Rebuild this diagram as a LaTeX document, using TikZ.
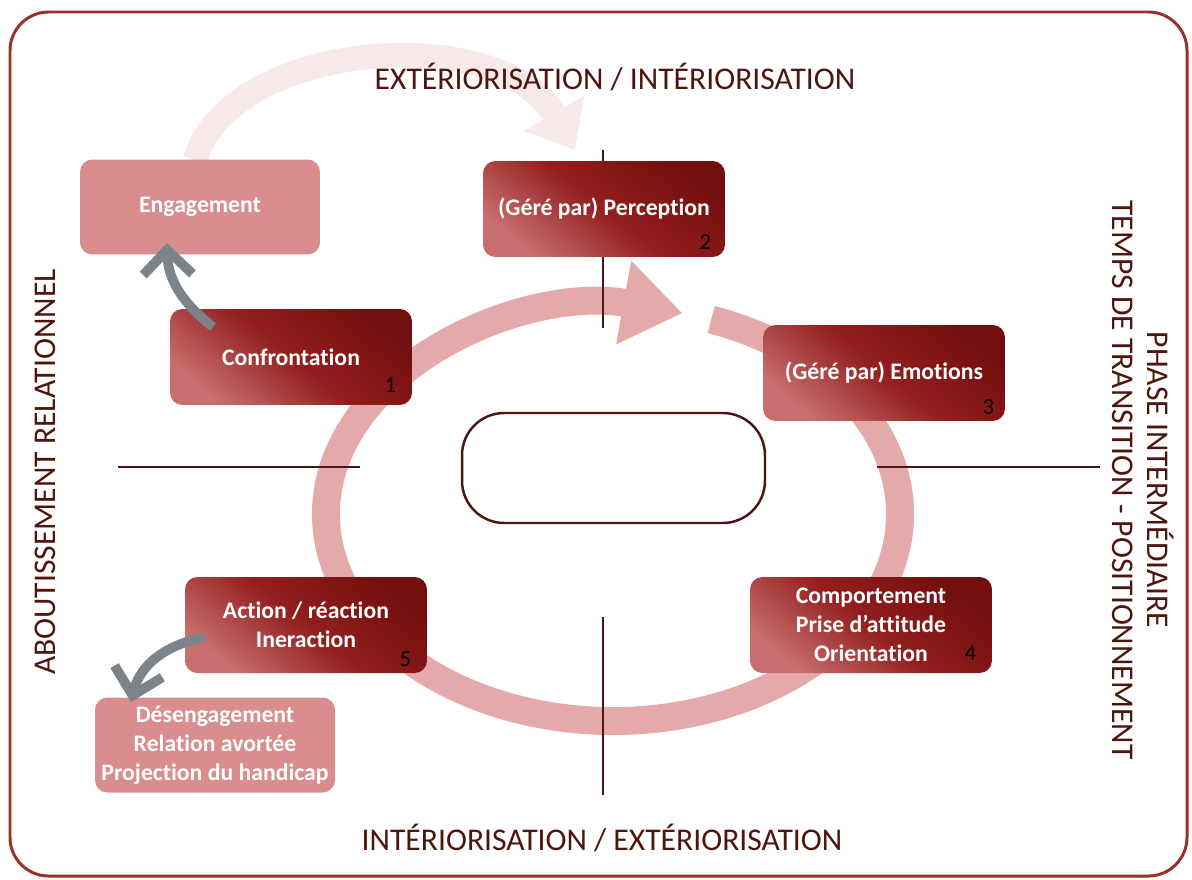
\documentclass[tikz,border=0pt]{standalone}
\usepackage{fontspec}
\setmainfont{Carlito}[Ligatures=NoCommon]
\usepackage {tikz}
\usetikzlibrary {positioning}
\usetikzlibrary{calc}
\usetikzlibrary{arrows.meta}
\definecolor{framered}{HTML}{983228}
\definecolor{boxdark}{HTML}{740F0F}
\definecolor{boxmid}{HTML}{931E1E}
\definecolor{boxlight}{HTML}{C86E6E}
\definecolor{palebox}{HTML}{DA8D8D}
\definecolor{ringpink}{HTML}{E4A9A9}
\definecolor{ghostpink}{HTML}{F8E9E9}
\definecolor{axisline}{HTML}{4A1512}
\definecolor{titlebrown}{HTML}{4E150F}
\definecolor{arrowgray}{HTML}{7B848A}
\tikzset{
    stage/.style = {rectangle, rounded corners=7pt, minimum width=4.84cm, minimum height=1.92cm,
        top color=boxdark, bottom color=boxlight, middle color=boxmid, shading angle=-40,
        text=white, align=center, font=\bfseries\fontsize{13.5}{16.5}\selectfont},
    outcome/.style = {rectangle, rounded corners=7pt, minimum width=4.8cm, minimum height=1.9cm,
        fill=palebox, text=white, align=center, font=\bfseries\fontsize{13.5}{16.5}\selectfont},
    stepnum/.style = {inner sep=0pt, text=black, font=\fontsize{13}{15}\selectfont},
    axis/.style = {draw=axisline, line width=1.2pt},
    heading/.style = {text=titlebrown, align=center, font=\fontsize{18}{20}\selectfont},
    sidearrow/.style = {draw=arrowgray, line width=5.5pt, -{Straight Barb[length=14pt, width=28pt]}}}

\begin{document}
\begin{tikzpicture}[x=0.02cm, y=-0.02cm]
    \useasboundingbox (0,0) rectangle (1192,879);
    % frame
    \draw[framered, line width=1.7pt, rounded corners=22pt] (10,12) rectangle (1187,876);
    % faint arrow over the top
    \coordinate (ghostA) at (195,160);
    \coordinate (ghostB) at (575,150);
    \draw[ghostpink, line width=14pt, -{Triangle[width=38pt, length=24pt]}]
        (ghostA) .. controls (230,40) and (500,20) .. (ghostB);
    % cycle
    \coordinate (cyc) at (613,514);
    \draw[ringpink, line width=15.9pt, -{Triangle[width=46pt, length=34pt]}]
        ($(cyc)+(-70:287 and 207)$) arc[start angle=-70, end angle=284, x radius=287, y radius=207];
    % axes
    \coordinate (topA) at (603,150);
    \coordinate (topB) at (603,328);
    \coordinate (botA) at (603,617);
    \coordinate (botB) at (603,795);
    \coordinate (leftA) at (118,467);
    \coordinate (leftB) at (360,467);
    \coordinate (rightA) at (877,467);
    \coordinate (rightB) at (1100,467);
    \draw[axis] (topA) -- (topB) (botA) -- (botB) (leftA) -- (leftB) (rightA) -- (rightB);
    % stages
    \node[stage] (confr) at (291,357) {Confrontation};
    \node[stage] (percep) at (604,209) {(Géré par) Perception};
    \node[stage] (emot) at (884,373) {(Géré par) Emotions};
    \node[stage] (compo) at (871,625) {Comportement\\Prise d’attitude\\Orientation};
    \node[stage] (action) at (306,625) {Action / réaction\\Ineraction};
    \node[outcome] (engage) at (200,207) {Engagement};
    \node[outcome] (disengage) at (215,745) {Désengagement\\Relation avortée\\Projection du handicap};
    \node[stepnum] (n1) at ($(confr.south east)+(-22,-20)$) {1};
    \node[stepnum] (n2) at ($(percep.south east)+(-20,-15)$) {2};
    \node[stepnum] (n3) at ($(emot.south east)+(-17,-14)$) {3};
    \node[stepnum] (n4) at ($(compo.south east)+(-22,-20)$) {4};
    \node[stepnum] (n5) at ($(action.south east)+(-22,-14)$) {5};
    % grey arrows
    \coordinate (upTail) at (213,327);
    \coordinate (upHead) at (167,243);
    \coordinate (downTail) at (205,637);
    \coordinate (downHead) at (131,702);
    \draw[sidearrow] (upTail) .. controls (185,305) and (168,282) .. (upHead);
    \draw[sidearrow] (downTail) .. controls (165,645) and (140,665) .. (downHead);
    % centre
    \node[draw=axisline, line width=1.4pt, rounded corners=24pt, fill=white,
        minimum width=6.06cm, minimum height=2.2cm] (core) at (613.5,468) {};
    % headings
    \node[heading] (topTitle) at (615,77) {EXTÉRIORISATION / INTÉRIORISATION};
    \node[heading] (botTitle) at (602,838) {INTÉRIORISATION / EXTÉRIORISATION};
    \node[heading, rotate=90] (leftTitle) at (45,472) {ABOUTISSEMENT RELATIONNEL};
    \node[heading, rotate=-90] (rightTitle) at (1143,480) {PHASE INTERMÉDIAIRE\\TEMPS DE TRANSITION - POSITIONNEMENT};
\end{tikzpicture}
\end{document}
